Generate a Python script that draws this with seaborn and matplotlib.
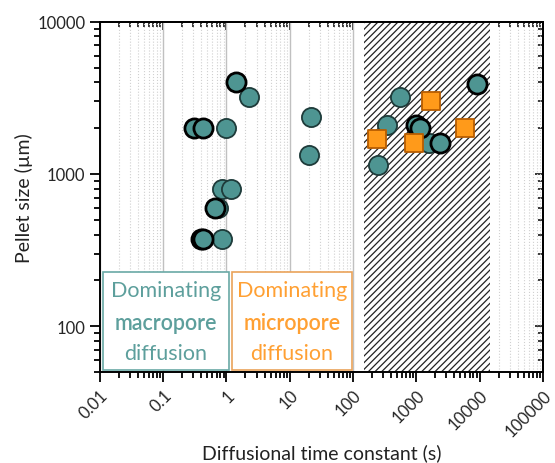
import numpy as np
import pandas as pd
import matplotlib
matplotlib.use('Agg')
import matplotlib.pyplot as plt
import matplotlib.ticker as mticker
import seaborn as sns

# data (time constant in s, pellet size in um)
macro_t = [1.44, 2.3, 0.31, 0.43, 0.98, 22, 20, 0.84, 1.2, 0.66, 0.74, 0.40, 0.43, 0.86,
           9100, 560, 340, 1000, 1140, 1600, 2400, 250]
macro_d = [4000, 3200, 2000, 2000, 2000, 2380, 1340, 800, 800, 600, 600, 375, 375, 375,
           3880, 3200, 2100, 2100, 2000, 1600, 1600, 1140]
macro_bold = [1, 0, 1, 1, 0, 0, 0, 0, 0, 1, 0, 1, 1, 0,
              1, 0, 0, 1, 1, 0, 1, 0]
micro_t = [1680, 6000, 240, 910]
micro_d = [3000, 2000, 1700, 1600]

zone_lo, zone_hi = 150, 14500

macro = pd.DataFrame({'t': macro_t, 'd': macro_d, 'bold': macro_bold})
micro = pd.DataFrame({'t': micro_t, 'd': micro_d})

sns.set_style('ticks')
plt.rcParams['font.family'] = ['Lato', 'DejaVu Sans']
plt.rcParams['hatch.linewidth'] = 0.9

teal = '#4e9592'
orange = '#ff9a1a'

fig = plt.figure(figsize=(5.55, 4.64), dpi=100)
ax = fig.add_axes([0.18, 0.196, 0.798, 0.755])
ax.set_xscale('log')
ax.set_yscale('log')
ax.set_xlim(0.01, 100000)
ax.set_ylim(50, 10000)

# micropore-controlled zone
ax.axvspan(zone_lo, zone_hi, facecolor='white', edgecolor='#222222', hatch='/////',
           linewidth=0, zorder=1)

ax.grid(True, which='major', axis='x', color='#c0c0c0', linewidth=1.0, zorder=0.5)
ax.grid(True, which='minor', axis='x', color='#d0d0d0', linewidth=0.8, linestyle=':', zorder=0.5)
ax.grid(False, axis='y')

sns.scatterplot(data=macro[macro.bold == 0], x='t', y='d', ax=ax, color=teal, s=190,
                edgecolor='#1e3b3a', linewidth=1.3, zorder=3)
sns.scatterplot(data=macro[macro.bold == 1], x='t', y='d', ax=ax, color=teal, s=190,
                edgecolor='black', linewidth=2.0, zorder=3)
sns.scatterplot(data=micro, x='t', y='d', ax=ax, color=orange, marker='s', s=170,
                edgecolor='#b85d00', linewidth=1.3, zorder=4)

ax.set_xlabel('Diffusional time constant (s)', fontsize=14, color='#222222', labelpad=3)
ax.set_ylabel('Pellet size (µm)', fontsize=14, color='#222222', labelpad=3)

xt = [0.01, 0.1, 1, 10, 100, 1000, 10000, 100000]
ax.xaxis.set_major_locator(mticker.FixedLocator(xt))
ax.set_xticklabels(['0.01', '0.1', '1', '10', '100', '1000', '10000', '100000'],
                   rotation=45, ha='right', rotation_mode='anchor', fontsize=12)
ax.xaxis.set_minor_locator(mticker.LogLocator(base=10, subs=np.arange(2, 10), numticks=20))
ax.xaxis.set_minor_formatter(mticker.NullFormatter())
yt = [100, 1000, 10000]
ax.yaxis.set_major_locator(mticker.FixedLocator(yt))
ax.set_yticklabels(['100', '1000', '10000'], fontsize=12)
ax.yaxis.set_minor_locator(mticker.LogLocator(base=10, subs=np.arange(2, 10), numticks=20))
ax.yaxis.set_minor_formatter(mticker.NullFormatter())

ax.tick_params(which='both', direction='out', top=False, right=False, width=1.3, color='black')
ax.tick_params(which='major', length=7)
ax.tick_params(which='minor', length=4)
ax2 = ax.secondary_xaxis('top')
ax2.xaxis.set_major_locator(mticker.FixedLocator(xt))
ax2.xaxis.set_minor_locator(mticker.LogLocator(base=10, subs=np.arange(2, 10), numticks=20))
ax2.tick_params(which='both', direction='in', labeltop=False, width=1.3)
ax2.tick_params(which='major', length=6)
ax2.tick_params(which='minor', length=3.5)
ay2 = ax.secondary_yaxis('right')
ay2.yaxis.set_major_locator(mticker.FixedLocator(yt))
ay2.yaxis.set_minor_locator(mticker.LogLocator(base=10, subs=np.arange(2, 10), numticks=20))
ay2.tick_params(which='both', direction='in', labelright=False, width=1.3)
ay2.tick_params(which='major', length=6)
ay2.tick_params(which='minor', length=3.5)
for sp in list(ax.spines.values()) + [ax2.spines['top'], ay2.spines['right']]:
    sp.set_linewidth(1.4)
    sp.set_color('black')

# annotation boxes
box_teal = '#6aa9a6'
box_orange = '#eaa35a'
for x0, x1, col, word in [(0.0112, 1.09, box_teal, 'macropore'),
                          (1.22, 97, box_orange, 'micropore')]:
    ax.add_patch(plt.Rectangle((x0, 51.5), x1 - x0, 227 - 51.5, transform=ax.transData,
                               facecolor='white', edgecolor=col, linewidth=1.2, zorder=5))
    xc = np.sqrt(x0 * x1)
    tcol = '#5d9f9c' if col == box_teal else '#ffa033'
    ax.text(xc, 172, 'Dominating', ha='center', va='center', color=tcol, fontsize=15.5, zorder=6)
    ax.text(xc, 106, word, ha='center', va='center', color=tcol, fontsize=15.5,
            fontweight='semibold', zorder=6)
    ax.text(xc, 67, 'diffusion', ha='center', va='center', color=tcol, fontsize=15.5, zorder=6)

fig.savefig('out.png', dpi=100)
